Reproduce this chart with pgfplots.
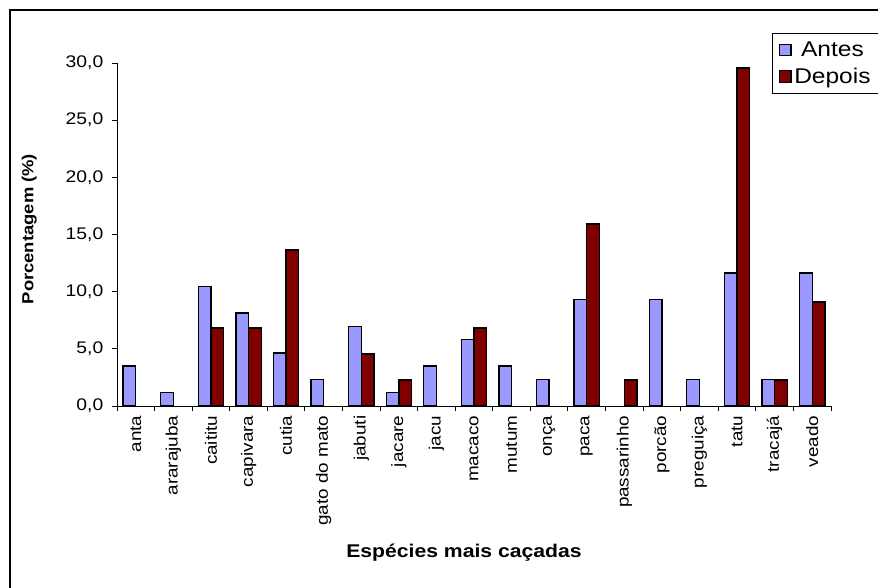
\documentclass[border=0pt]{standalone}
\usepackage{fontspec}
\setmainfont{Liberation Sans}[FakeStretch=1.15]
\usepackage{pgfplots}
\pgfplotsset{compat=1.18}
\definecolor{antes}{HTML}{9999FF}
\definecolor{depois}{HTML}{800000}
\begin{document}
\begin{tikzpicture}[x=1pt,y=1pt]
\useasboundingbox (0,0) rectangle (658.5,440.25);
\draw[line width=1.1pt] (7.5,-5) -- (7.5,432.75) -- (665,432.75);
\begin{axis}[
  at={(87.75pt,135.75pt)}, anchor=south west,
  scale only axis, width=535.5pt, height=257.25pt,
  xmin=-0.5, xmax=18.5, ymin=0, ymax=30,
  axis lines=left, axis line style={-, line width=0.75pt},
  ytick={0,5,...,30},
  scaled y ticks=false,
  yticklabel style={xshift=-3pt, font=\fontsize{12.6}{15}\selectfont, /pgf/number format/fixed, /pgf/number format/fixed zerofill, /pgf/number format/precision=1, /pgf/number format/use comma, /pgf/number format/assume math mode=true},
  xtick={0,...,18},
  xticklabels={anta, ararajuba, caititu, capivara, cutia, gato do mato, jabuti, jacare, jacu, macaco, mutum, onça, paca, passarinho, porcão, preguiça, tatu, tracajá, veado},
  major x tick style={draw=none},
  minor xtick={-0.5,0.5,...,18.5},
  tick align=outside, major tick length=3.75pt, minor tick length=3.75pt,
  tick style={black, line width=0.75pt},
  xticklabel style={rotate=90, anchor=east, font=\fontsize{12.3}{14}\selectfont},
  xlabel={Espécies mais caçadas},
  xlabel style={font=\bfseries\fontsize{13.8}{16}\selectfont, at={(axis description cs:0.486,-0.429)}, anchor=center},
  ylabel={Porcentagem (\%)},
  ylabel style={font=\bfseries\fontsize{12}{14}\selectfont, at={(axis description cs:-0.123,0.516)}, anchor=center},
  ybar, bar width=9.5pt,
  legend style={at={(axis description cs:0.917,1.087)}, anchor=north west, draw=black, line width=0.75pt, font=\fontsize{16}{19}\selectfont, row sep=3pt, inner xsep=5pt, inner ysep=4pt},
  legend image code/.code={\draw[#1, line width=0.9pt] (0pt,-4.3pt) rectangle (8.6pt,4.3pt);},
]
\addplot[fill=antes, draw=black, line width=1pt, bar shift=-4.75pt] coordinates {
(0,3.49) (1,1.16) (2,10.47) (3,8.14) (4,4.65) (5,2.33) (6,6.98) (7,1.16) (8,3.49) (9,5.81) (10,3.49) (11,2.33) (12,9.30) (14,9.30) (15,2.33) (16,11.63) (17,2.33) (18,11.63)};
\addplot[fill=depois, draw=black, line width=1pt, bar shift=4.75pt] coordinates {
(2,6.82) (3,6.82) (4,13.64) (6,4.55) (7,2.27) (9,6.82) (12,15.91) (13,2.27) (16,29.55) (17,2.27) (18,9.09)};
\legend{Antes, Depois}
\end{axis}
\end{tikzpicture}
\end{document}
